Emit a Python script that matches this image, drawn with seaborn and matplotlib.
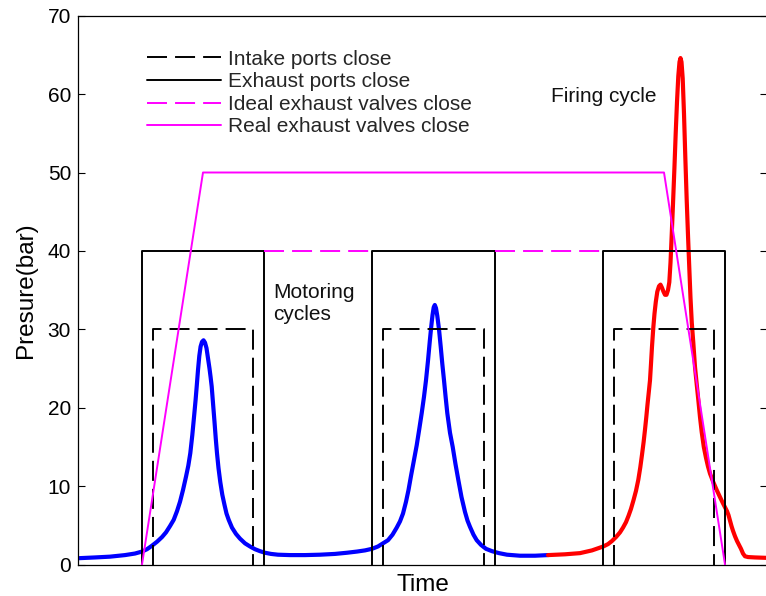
import matplotlib
matplotlib.use("Agg")
import matplotlib.pyplot as plt
from matplotlib.lines import Line2D
import pandas as pd
import seaborn as sns

# Cylinder pressure trace, two motoring cycles (time, bar)
motoring_t = [0, 17, 32, 47, 57, 64, 69, 74, 79, 84, 88, 92, 95.7, 99, 102, 105, 108,
              110.3, 112.3, 114.3, 116.3, 117.6, 118.7, 120, 121.3, 122.6, 124, 125.5,
              127, 128.5, 130, 131.5, 132.6, 133.7, 135, 136.5, 137.8, 139, 140.5, 142.3,
              144.3, 146.5, 148.5, 150.7, 154, 158, 162, 167, 172, 177, 182, 187, 193,
              200, 212, 227, 242, 257, 269, 279, 287, 294, 300, 305, 310, 314.5, 318.7,
              322, 325, 328, 330.5, 333, 335.5, 338.7, 341.3, 343.7, 346, 348, 350,
              351.8, 353.2, 354.5, 355.7, 356.8, 358, 359.3, 361, 362.7, 364.3, 366,
              367.6, 369.3, 372, 374.7, 377.5, 380.3, 383.5, 387, 389.5, 392, 395.5,
              398.7, 403, 408, 414, 421, 429, 442, 457, 470]
motoring_p = [0.8, 0.9, 1.0, 1.2, 1.4, 1.65, 1.95, 2.4, 2.9, 3.5, 4.1, 4.9, 5.7, 6.8,
              8.0, 9.5, 11.2, 12.6, 14.2, 16.5, 19.2, 21.0, 22.7, 24.8, 26.6, 27.8,
              28.4, 28.6, 28.3, 27.6, 26.3, 25.0, 23.9, 22.7, 20.6, 18.2, 16.0, 14.2,
              12.3, 10.5, 8.9, 7.6, 6.5, 5.7, 4.7, 3.9, 3.3, 2.7, 2.3, 1.95, 1.7, 1.5,
              1.35, 1.25, 1.2, 1.2, 1.25, 1.35, 1.5, 1.65, 1.8, 2.0, 2.3, 2.7, 3.1, 3.8,
              4.7, 5.5, 6.5, 8.0, 9.5, 11.3, 13.0, 15.2, 17.3, 19.3, 21.4, 23.5, 26.0,
              28.5, 30.3, 31.8, 32.8, 33.1, 32.7, 31.7, 30.0, 27.8, 25.6, 23.5, 21.4,
              19.3, 16.8, 15.0, 12.8, 10.8, 8.6, 6.7, 5.6, 4.8, 3.8, 3.1, 2.5, 2.0, 1.7,
              1.45, 1.25, 1.12, 1.12, 1.2]

# Cylinder pressure trace, firing cycle (time, bar)
firing_t = [470, 487, 502, 514, 525.3, 530, 534, 538, 542, 545, 548, 550.5, 553, 555.5,
            558, 560.3, 562.3, 564, 565.6, 567, 568.3, 569.5, 570.8, 572, 573, 574,
            575.3, 576.5, 577.8, 579.3, 581, 582.5, 584, 585.5, 587, 588.5, 590, 591.3,
            592.5, 593.7, 595, 596.4, 597.7, 599, 600.3, 601.5, 602.5, 603.5, 604.7,
            606, 607.3, 608.7, 610, 611.3, 612.5, 613.8, 615.3, 617, 618.7, 620.3, 622,
            623.7, 625.8, 628, 630, 632, 635, 638.7, 642, 645, 647, 649, 650.5, 652,
            653.5, 655, 657, 659, 661, 663, 665, 667, 670, 677, 688]
firing_p = [1.2, 1.3, 1.45, 1.8, 2.3, 2.6, 3.0, 3.5, 4.1, 4.7, 5.4, 6.2, 7.1, 8.2, 9.4,
            10.8, 12.4, 14.0, 15.6, 17.2, 18.8, 20.4, 22.0, 23.5, 25.6, 27.8, 30.2, 32.0,
            33.5, 34.8, 35.5, 35.7, 35.3, 34.8, 34.4, 34.4, 35.0, 36.0, 38.5, 42.0, 46.0,
            50.5, 55.0, 59.0, 62.3, 64.1, 64.6, 64.1, 62.0, 57.5, 52.0, 46.5, 42.0, 37.8,
            34.0, 30.8, 28.3, 25.2, 23.0, 21.0, 18.8, 16.9, 15.0, 13.6, 12.5, 11.6, 10.6,
            9.5, 8.6, 7.8, 7.3, 6.8, 6.3, 5.6, 4.9, 4.3, 3.6, 3.0, 2.5, 2.0, 1.4, 1.05,
            0.95, 0.9, 0.85]

# Port and valve timing windows
exhaust_port_start = [64, 294, 525]
exhaust_port_end = [186, 417, 647]
exhaust_port_level = 40
intake_port_start = [74.5, 305, 536]
intake_port_end = [174.7, 406, 636.3]
intake_port_level = 30
ideal_valve_start = [186, 417]
ideal_valve_end = [294, 525]
ideal_valve_level = 40
real_valve_t = [64, 125, 586, 647]
real_valve_p = [0, 50, 50, 0]

legend_labels = ["Intake ports close", "Exhaust ports close",
                 "Ideal exhaust valves close", "Real exhaust valves close"]
y_ticks = [0, 10, 20, 30, 40, 50, 60, 70]

sns.set_theme(style="white")
plt.rcParams["font.family"] = ["Liberation Sans", "DejaVu Sans"]
plt.rcParams["lines.scale_dashes"] = False

DASH = (0, (14.4, 5.8))
MAGENTA = "#ff00ff"

fig = plt.figure(figsize=(7.66, 5.96), dpi=100)
ax = fig.add_axes([78 / 766, 31.5 / 596, 689 / 766, 548.8 / 596])


def window(t0, t1, level):
    return pd.DataFrame({"t": [t0, t0, t1, t1], "p": [0, level, level, 0]})


common = dict(x="t", y="p", sort=False, estimator=None, ax=ax, legend=False)

# pressure traces
sns.lineplot(data=pd.DataFrame({"t": motoring_t, "p": motoring_p}), color="#0000ff",
             linewidth=3.0, zorder=2, **common)
sns.lineplot(data=pd.DataFrame({"t": firing_t, "p": firing_p}), color="#ff0000",
             linewidth=3.0, zorder=2, **common)

# intake ports closed
for t0, t1 in zip(intake_port_start, intake_port_end):
    sns.lineplot(data=window(t0, t1, intake_port_level), color="black", linewidth=1.4,
                 linestyle=DASH, zorder=3, **common)
# exhaust ports closed
for t0, t1 in zip(exhaust_port_start, exhaust_port_end):
    sns.lineplot(data=window(t0, t1, exhaust_port_level), color="black", linewidth=1.4,
                 zorder=3, **common)
# ideal exhaust valve closing between the port windows
for t0, t1 in zip(ideal_valve_start, ideal_valve_end):
    sns.lineplot(data=pd.DataFrame({"t": [t0, t1], "p": [ideal_valve_level] * 2}),
                 color=MAGENTA, linewidth=1.4, linestyle=DASH, zorder=3, **common)
# real exhaust valve profile
sns.lineplot(data=pd.DataFrame({"t": real_valve_t, "p": real_valve_p}), color=MAGENTA,
             linewidth=1.4, zorder=3, **common)

handles = [
    Line2D([], [], color="black", linewidth=1.4, linestyle=DASH),
    Line2D([], [], color="black", linewidth=1.4),
    Line2D([], [], color=MAGENTA, linewidth=1.4, linestyle=DASH),
    Line2D([], [], color=MAGENTA, linewidth=1.4),
]
ax.legend(handles, legend_labels, loc="upper left", bbox_to_anchor=(0.1, 0.938),
          frameon=False, fontsize=15, handlelength=3.57, handletextpad=0.33,
          labelspacing=0.17, borderpad=0, borderaxespad=0)

ax.text(195, 35.9, "Motoring\ncycles", fontsize=15, va="top", ha="left",
        linespacing=1.17, color="#111111")
ax.text(473, 58.95, "Firing cycle", fontsize=15, va="baseline", ha="left",
        color="#111111")

ax.set_xlim(0, 689)
ax.set_ylim(0, 70)
ax.set_yticks(y_ticks)
ax.set_yticklabels([str(v) for v in y_ticks])
ax.set_xticks([])
ax.tick_params(axis="y", direction="in", length=5, width=0.8, left=True, right=True,
               labelsize=15, pad=5, colors="black")
for sp in ax.spines.values():
    sp.set_color("black")
    sp.set_linewidth(0.9)
    sp.set_visible(True)

ax.set_xlabel("Time", fontsize=17.5, labelpad=7, color="black")
ax.set_ylabel("Presure(bar)", fontsize=17.5, labelpad=8, color="black")

fig.savefig("out.png", dpi=100, facecolor="white")
